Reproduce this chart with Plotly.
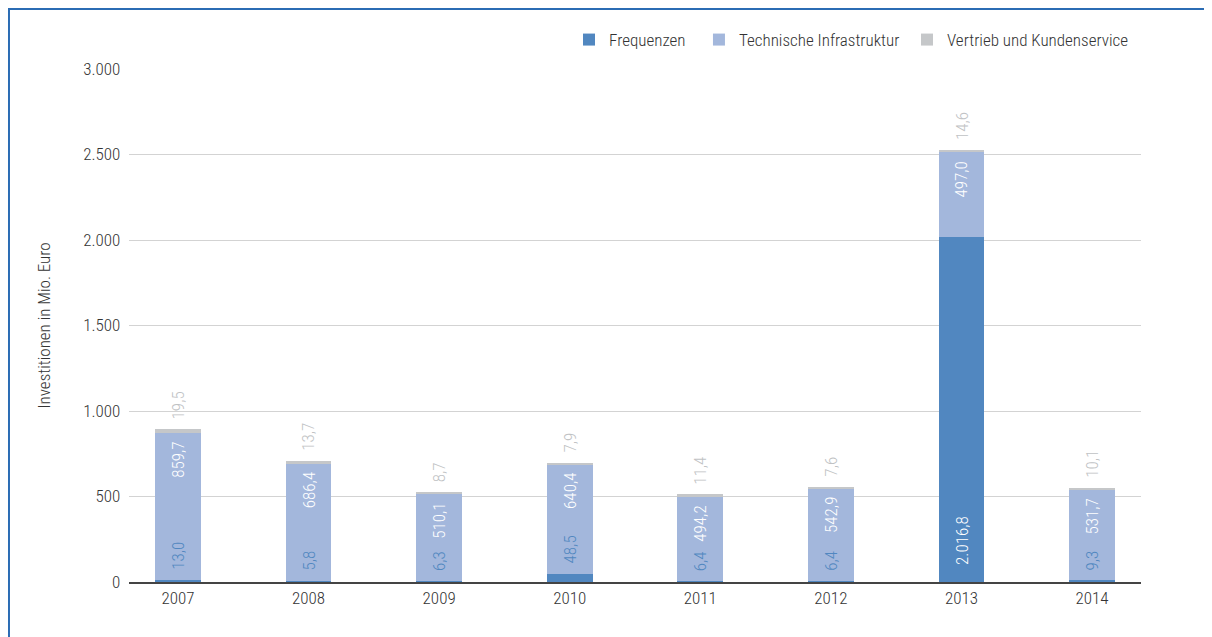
import numpy as np
import plotly.graph_objects as go

FONT = dict(family="Roboto Condensed, Liberation Sans Narrow, DejaVu Sans Condensed, Roboto, sans-serif",
            color="#333333", size=17, weight=300)

years = ["2007", "2008", "2009", "2010", "2011", "2012", "2013", "2014"]
frequenzen = [13.0, 5.8, 6.3, 48.5, 6.4, 6.4, 2016.8, 9.3]
technik = [859.7, 686.4, 510.1, 640.4, 494.2, 542.9, 497.0, 531.7]
vertrieb = [19.5, 13.7, 8.7, 7.9, 11.4, 7.6, 14.6, 10.1]

C_FREQ = "#5187c0"
C_TECH = "#a3b7dc"
C_VERT = "#c5c7c9"


def de(v):
    s = f"{v:,.1f}"
    return s.replace(",", "X").replace(".", ",").replace("X", ".")


fig = go.Figure()
series = [("Frequenzen", frequenzen, C_FREQ, "legend", 0.4348),
          ("Technische Infrastruktur", technik, C_TECH, "legend2", 0.5632),
          ("Vertrieb und Kundenservice", vertrieb, C_VERT, "legend3", 0.7688)]
for name, vals, col, leg, _ in series:
    fig.add_trace(go.Bar(x=years, y=vals, name=name, marker=dict(color=col, line=dict(width=0)),
                         width=0.35, legend=leg))

lab_font = dict(family=FONT["family"], size=17, weight=300)
tech_top = np.array(frequenzen) + np.array(technik)
total = tech_top + np.array(vertrieb)
for i, y in enumerate(years):
    big = frequenzen[i] > 200
    # small segments: label sits just above the segment; large: inside at its base
    fig.add_annotation(x=i, y=0 if big else frequenzen[i], text=de(frequenzen[i]), textangle=-90,
                       showarrow=False, yanchor="bottom", yshift=15 if big else 8,
                       font=dict(lab_font, color="white" if big else C_FREQ))
    fig.add_annotation(x=i, y=tech_top[i], text=de(technik[i]), textangle=-90, showarrow=False,
                       yanchor="top", yshift=-7, font=dict(lab_font, color="white"))
    fig.add_annotation(x=i, y=total[i], text=de(vertrieb[i]), textangle=-90, showarrow=False,
                       yanchor="bottom", yshift=8, font=dict(lab_font, color="#c0c2c4"))

# outer blue frame
fig.add_shape(type="rect", xref="paper", yref="paper", x0=-0.1186, x1=1.1, y0=-0.2, y1=1.117,
              line=dict(color="#2b6cb4", width=2), layer="below")

legends = {}
for name, vals, col, leg, lx in series:
    legends[leg] = dict(orientation="h", x=lx, xanchor="left", y=1.0565, yanchor="middle",
                        font=dict(FONT, size=17), bgcolor="rgba(0,0,0,0)")

fig.update_layout(
    barmode="stack",
    width=1212, height=637,
    margin=dict(t=61, b=63, l=121, r=79),
    font=FONT,
    separators=",.",
    paper_bgcolor="white",
    plot_bgcolor="white",
    xaxis=dict(type="category", range=[-0.375, 7.375], showline=True, linecolor="#444444",
               linewidth=2, ticks="", tickfont=dict(size=17)),
    yaxis=dict(range=[0, 3000], dtick=500, tickformat=",d", gridcolor="#d3d3d3", gridwidth=1,
               zeroline=False, ticks="", ticksuffix="  ", tickfont=dict(size=17),
               title=dict(text="Investitionen in Mio. Euro", font=dict(size=17), standoff=28)),
    showlegend=True,
    **legends,
)

fig.write_html("out.html")
